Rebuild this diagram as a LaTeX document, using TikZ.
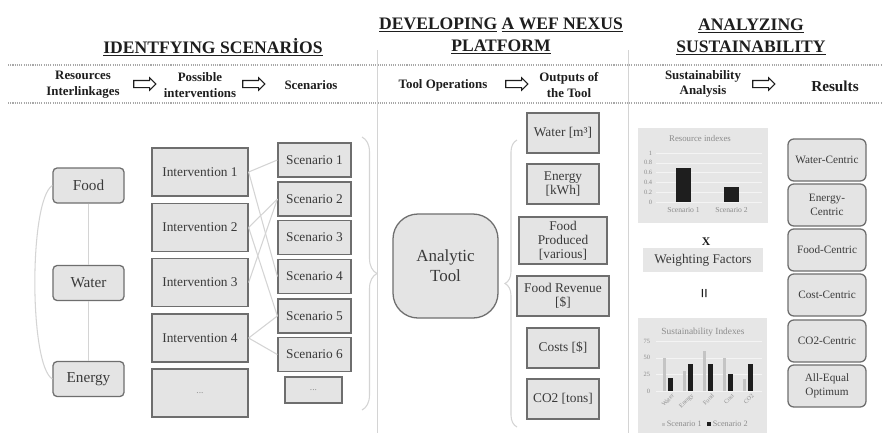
\documentclass[tikz,border=0pt]{standalone}
\usepackage{fontspec}
\setmainfont{Liberation Serif}
\usetikzlibrary{shapes.arrows,decorations.pathreplacing}
\definecolor{NXFill}{HTML}{E4E4E4}
\definecolor{NXEdge}{HTML}{6E6E6E}
\definecolor{NXText}{HTML}{3A3A3A}
\definecolor{NXInk}{HTML}{1E1E1E}
\definecolor{NXLine}{HTML}{D4D4D4}
\definecolor{NXPanel}{HTML}{E6E6E6}
\definecolor{NXMuted}{HTML}{8C8C8C}
\definecolor{NXBar}{HTML}{C4C4C4}
\definecolor{NXDots}{HTML}{A8A8A8}

\tikzset{
  nxbox/.style={draw=NXEdge, fill=NXFill, line width=1.1pt, text=NXText, inner sep=1pt, align=center},
  nxround/.style={nxbox, rounded corners=3.5pt},
  nxhead/.style={text=NXInk, font=\fontsize{15}{19}\selectfont\bfseries, align=center},
  nxsub/.style={text=NXInk, font=\fontsize{11}{13.5}\selectfont\bfseries, align=center},
  nxarrow/.style={shape=single arrow, draw=NXInk, fill=white, line width=0.9pt, minimum height=0.66cm,
    minimum width=0.36cm, single arrow head extend=0.08cm, inner sep=0.09cm},
  nxlink/.style={draw=NXLine, line width=0.9pt},
  nxtick/.style={text=NXMuted, inner sep=0.5pt, font=\fontsize{5.5}{6}\selectfont},
  nxbrace/.style={draw=NXLine, line width=0.9pt, decorate},
}

\begin{document}
\begin{tikzpicture}[x=0.03cm,y=-0.03cm]
\path[use as bounding box, fill=white] (0,0) rectangle (883,435);
% headings
\node[nxhead] (hdScen) at (213,47) {\underline{IDENTFYING SCENARİOS}};
\node[nxhead] (hdPlat) at (501,36) {\underline{DEVELOPING} \underline{A WEF NEXUS}\\\underline{PLATFORM}};
\node[nxhead] (hdSust) at (751,37) {\underline{ANALYZING}\\\underline{SUSTAINABILITY}};
\draw[NXDots, densely dotted, line width=0.9pt] (8,65) -- (883,65);
\draw[NXDots, densely dotted, line width=0.9pt] (8,103) -- (883,103);
\draw[NXLine, line width=0.8pt] (377,50) -- (377,433);
\draw[NXLine, line width=0.8pt] (628,50) -- (628,433);
% step row
\node[nxsub] (shRes) at (83,85) {Resources\\Interlinkages};
\node[nxarrow] (arA) at (143,84) {};
\node[nxsub] (shInt) at (200,85) {Possible\\interventions};
\node[nxarrow] (arB) at (252,84) {};
\node[nxsub] (shScn) at (311,85) {Scenarios};
\node[nxsub] (shOps) at (443,85) {Tool Operations};
\node[nxarrow] (arC) at (515,84) {};
\node[nxsub] (shOut) at (569,85) {Outputs of\\the Tool};
\node[nxsub] (shSA) at (703,84) {Sustainability\\Analysis};
\node[nxarrow] (arD) at (762,84) {};
\node[nxsub, font=\fontsize{13}{15}\selectfont\bfseries] (shRs) at (835,86) {Results};
% resources
\tikzset{nxres/.style={nxround, minimum width=2.13cm, minimum height=1.05cm, font=\fontsize{13}{15}\selectfont}}
\node[nxres] (food) at (88.5,185.5) {Food};
\node[nxres] (water) at (88.5,283) {Water};
\node[nxres] (energy) at (88.5,379) {Energy};
\draw[nxlink] (food.south) -- (water.north);
\draw[nxlink] (water.south) -- (energy.north);
\draw[nxlink] (food.west) .. controls (29,200) and (29,365) .. (energy.west);
% interventions
\tikzset{nxint/.style={nxbox, minimum width=2.88cm, minimum height=1.44cm, font=\fontsize{11.4}{13}\selectfont}}
\node[nxint] (int1) at (200,172) {Intervention 1};
\node[nxint] (int2) at (200,227.5) {Intervention 2};
\node[nxint] (int3) at (200,282.5) {Intervention 3};
\node[nxint] (int4) at (200,338) {Intervention 4};
\node[nxint] (int5) at (200,393) {\textcolor{NXMuted}{\fontsize{8}{9}\selectfont ...}};
% scenarios
\tikzset{nxscn/.style={nxbox, minimum width=2.19cm, minimum height=1.02cm, font=\fontsize{11.4}{13}\selectfont}}
\node[nxscn] (scn1) at (314.5,160) {Scenario 1};
\node[nxscn] (scn2) at (314.5,199) {Scenario 2};
\node[nxscn] (scn3) at (314.5,237.5) {Scenario 3};
\node[nxscn] (scn4) at (314.5,276.5) {Scenario 4};
\node[nxscn] (scn5) at (314.5,316) {Scenario 5};
\node[nxscn] (scn6) at (314.5,354.5) {Scenario 6};
\node[nxscn, minimum width=1.71cm, minimum height=0.78cm] (scn7) at (313.5,390) {\textcolor{NXMuted}{\fontsize{8}{9}\selectfont ...}};
\draw[nxlink] (int1.east) -- (scn1.west);
\draw[nxlink] (int1.east) -- (scn4.west);
\draw[nxlink] (int2.east) -- (scn2.west);
\draw[nxlink] (int2.east) -- (scn5.west);
\draw[nxlink] (int3.east) -- (scn2.west);
\draw[nxlink] (int4.east) -- (scn5.west);
\draw[nxlink] (int4.east) -- (scn6.west);
\coordinate (brAtop) at (362,137);
\coordinate (brAbot) at (362,410);
\draw[nxbrace, decoration={brace, amplitude=0.45cm}] (brAtop) -- (brAbot);
% platform
\node[nxbox, rounded corners=0.75cm, minimum width=3.15cm, minimum height=3.12cm,
  font=\fontsize{14.5}{17}\selectfont] (tool) at (445.5,266) {Analytic\\Tool};
\coordinate (brBbot) at (517,427);
\coordinate (brBtop) at (517,140);
\draw[nxbrace, decoration={brace, amplitude=0.36cm}] (brBbot) -- (brBtop);
\tikzset{nxout/.style={nxbox, minimum width=2.16cm, minimum height=1.2cm, font=\fontsize{11.4}{12}\selectfont}}
\node[nxout] (oWat) at (563,133) {Water [m³]};
\node[nxout] (oEne) at (563,184) {Energy\\{[kWh]}};
\node[nxout, minimum width=2.64cm, minimum height=1.41cm] (oFood) at (563,240.5) {Food\\Produced\\{[various]}};
\node[nxout, minimum width=2.76cm] (oRev) at (563,296) {Food Revenue\\{[\$]}};
\node[nxout] (oCost) at (563,348) {Costs [\$]};
\node[nxout] (oCO) at (563,399) {CO2 [tons]};
% resource indexes chart
\fill[NXPanel] (638,128) rectangle (768,223);
\node[nxtick, font=\fontsize{7.5}{8}\selectfont] (rTitle) at (700,138) {Resource indexes};
\foreach \lab [count=\i from 0] in {0,0.2,0.4,0.6,0.8,1} {
  \draw[white!55!NXPanel, line width=0.4pt] (656,202-\i*9.8) -- (762,202-\i*9.8);
  \node[nxtick, anchor=east] (rTick\i) at (653,202-\i*9.8) {\lab};
}
\fill[NXInk] (676,202) rectangle (691,167.7);
\fill[NXInk] (724,202) rectangle (739,187.3);
\node[nxtick, font=\fontsize{6.5}{7}\selectfont] (rLab1) at (683.5,210) {Scenario 1};
\node[nxtick, font=\fontsize{6.5}{7}\selectfont] (rLab2) at (731.5,210) {Scenario 2};
\node[text=NXInk, font=\fontsize{10}{12}\selectfont\bfseries] (times) at (706,242) {X};
\node[fill=NXPanel, text=NXText, minimum width=3.6cm, minimum height=0.72cm,
  font=\fontsize{11.3}{13}\selectfont] (wf) at (703,260) {Weighting Factors};
\node[text=NXInk, rotate=90, font=\fontsize{15}{17}\selectfont\bfseries] (equals) at (706,293) {=};
% sustainability indexes chart
\fill[NXPanel] (638,318) rectangle (767,433);
\node[nxtick, font=\fontsize{8}{9}\selectfont] (sTitle) at (703,332) {Sustainability Indexes};
\foreach \lab [count=\i from 0] in {0,25,50,75} {
  \draw[white!55!NXPanel, line width=0.4pt] (656,391-\i*16.6) -- (762,391-\i*16.6);
  \node[nxtick, anchor=east] (sTick\i) at (651,391-\i*16.6) {\lab};
}
\foreach \cat/\va/\vb [count=\i from 0] in {Water/50/20,Energy/30/40,Food/60/40,Cost/50/25,CO2/18/40} {
  \fill[NXBar] (662.5+\i*20,391) rectangle (665.5+\i*20,391-0.664*\va);
  \fill[NXInk] (667.5+\i*20,391) rectangle (672.5+\i*20,391-0.664*\vb);
  \node[nxtick, anchor=east, rotate=45, inner sep=0pt, font=\fontsize{5.2}{6}\selectfont] (sCat\i) at (673+\i*20,395) {\cat};
}
\fill[NXBar] (661.5,422.5) rectangle (664.5,425.5);
\node[nxtick, anchor=west, font=\fontsize{7}{8}\selectfont] (sLeg1) at (666,424) {Scenario 1};
\fill[NXInk] (707,422) rectangle (711,426);
\node[nxtick, anchor=west, font=\fontsize{7}{8}\selectfont] (sLeg2) at (712,424) {Scenario 2};
% results
\tikzset{nxrs/.style={nxround, rounded corners=5pt, minimum width=2.34cm, minimum height=1.26cm, font=\fontsize{9.6}{11.5}\selectfont}}
\node[nxrs] (rWat) at (827,160) {Water-Centric};
\node[nxrs] (rEne) at (827,205) {Energy-\\Centric};
\node[nxrs] (rFood) at (827,250) {Food-Centric};
\node[nxrs] (rCost) at (827,295) {Cost-Centric};
\node[nxrs] (rCO) at (827,341) {CO2-Centric};
\node[nxrs] (rAll) at (827,386) {All-Equal\\Optimum};
\end{tikzpicture}
\end{document}
